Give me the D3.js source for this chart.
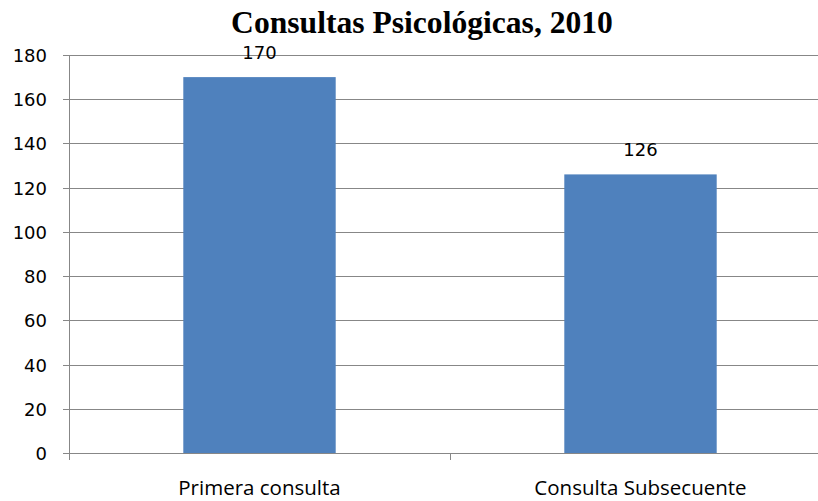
<!DOCTYPE html>
<html>
<head>
<meta charset="utf-8">
<script src="https://cdn.jsdelivr.net/npm/d3@7"></script>
<style>
  body { margin: 0; background: #fff; }
  svg { display: block; }
</style>
</head>
<body>
<div id="chart"></div>
<script>
const categories = ["Primera consulta", "Consulta Subsecuente"];
const values = [170, 126];
const yTicks = [0, 20, 40, 60, 80, 100, 120, 140, 160, 180];
const title = "Consultas Psicológicas, 2010";

const width = 818,
  height = 501;

const svg = d3
  .select("#chart")
  .append("svg")
  .attr("width", width)
  .attr("height", height);

// plot area runs a bit past the right edge, like the original
const plotLeft = 69,
  plotRight = 831,
  plotTop = 55,
  plotBottom = 453;

const x = d3
  .scaleBand()
  .domain(categories)
  .range([plotLeft, plotRight])
  .paddingInner(0.6)
  .paddingOuter(0.3);
const y = d3.scaleLinear().domain([0, 180]).range([plotBottom, plotTop]);

// gridlines
svg
  .append("g")
  .selectAll("line")
  .data(yTicks)
  .join("line")
  .attr("x1", plotLeft - 6)
  .attr("x2", width)
  .attr("y1", (d) => Math.round(y(d)) + 0.5)
  .attr("y2", (d) => Math.round(y(d)) + 0.5)
  .attr("stroke", "#878787")
  .attr("stroke-width", 1);

// y axis line
svg
  .append("line")
  .attr("x1", plotLeft + 0.5)
  .attr("x2", plotLeft + 0.5)
  .attr("y1", plotTop)
  .attr("y2", plotBottom + 7)
  .attr("stroke", "#878787");

// category divider tick
const step = x.step();
svg
  .append("line")
  .attr("x1", Math.round(plotLeft + step) + 0.5)
  .attr("x2", Math.round(plotLeft + step) + 0.5)
  .attr("y1", plotBottom)
  .attr("y2", plotBottom + 7)
  .attr("stroke", "#878787");

// y tick labels
svg
  .append("g")
  .selectAll("text")
  .data(yTicks)
  .join("text")
  .attr("x", 47)
  .attr("y", (d) => y(d) + 7)
  .attr("text-anchor", "end")
  .attr("font-family", "DejaVu Sans")
  .attr("font-size", 18)
  .attr("fill", "#000")
  .text((d) => d);

// bars
svg
  .append("g")
  .selectAll("rect")
  .data(values)
  .join("rect")
  .attr("x", (d, i) => x(categories[i]))
  .attr("y", (d) => y(d))
  .attr("width", x.bandwidth())
  .attr("height", (d) => plotBottom - y(d))
  .attr("fill", "#4F81BD");

// value labels
svg
  .append("g")
  .selectAll("text")
  .data(values)
  .join("text")
  .attr("x", (d, i) => x(categories[i]) + x.bandwidth() / 2)
  .attr("y", (d) => y(d) - 18)
  .attr("text-anchor", "middle")
  .attr("font-family", "DejaVu Sans")
  .attr("font-size", 18)
  .attr("fill", "#000")
  .text((d) => d);

// category labels
svg
  .append("g")
  .selectAll("text")
  .data(categories)
  .join("text")
  .attr("x", (d) => x(d) + x.bandwidth() / 2)
  .attr("y", 495)
  .attr("text-anchor", "middle")
  .attr("font-family", "Open Sans")
  .attr("font-size", 20.5)
  .attr("fill", "#000")
  .text((d) => d);

// title
svg
  .append("text")
  .attr("x", 422)
  .attr("y", 33)
  .attr("text-anchor", "middle")
  .attr("font-family", "Liberation Serif")
  .attr("font-weight", "bold")
  .attr("font-size", 31.6)
  .attr("fill", "#000")
  .text(title);
</script>
</body>
</html>
